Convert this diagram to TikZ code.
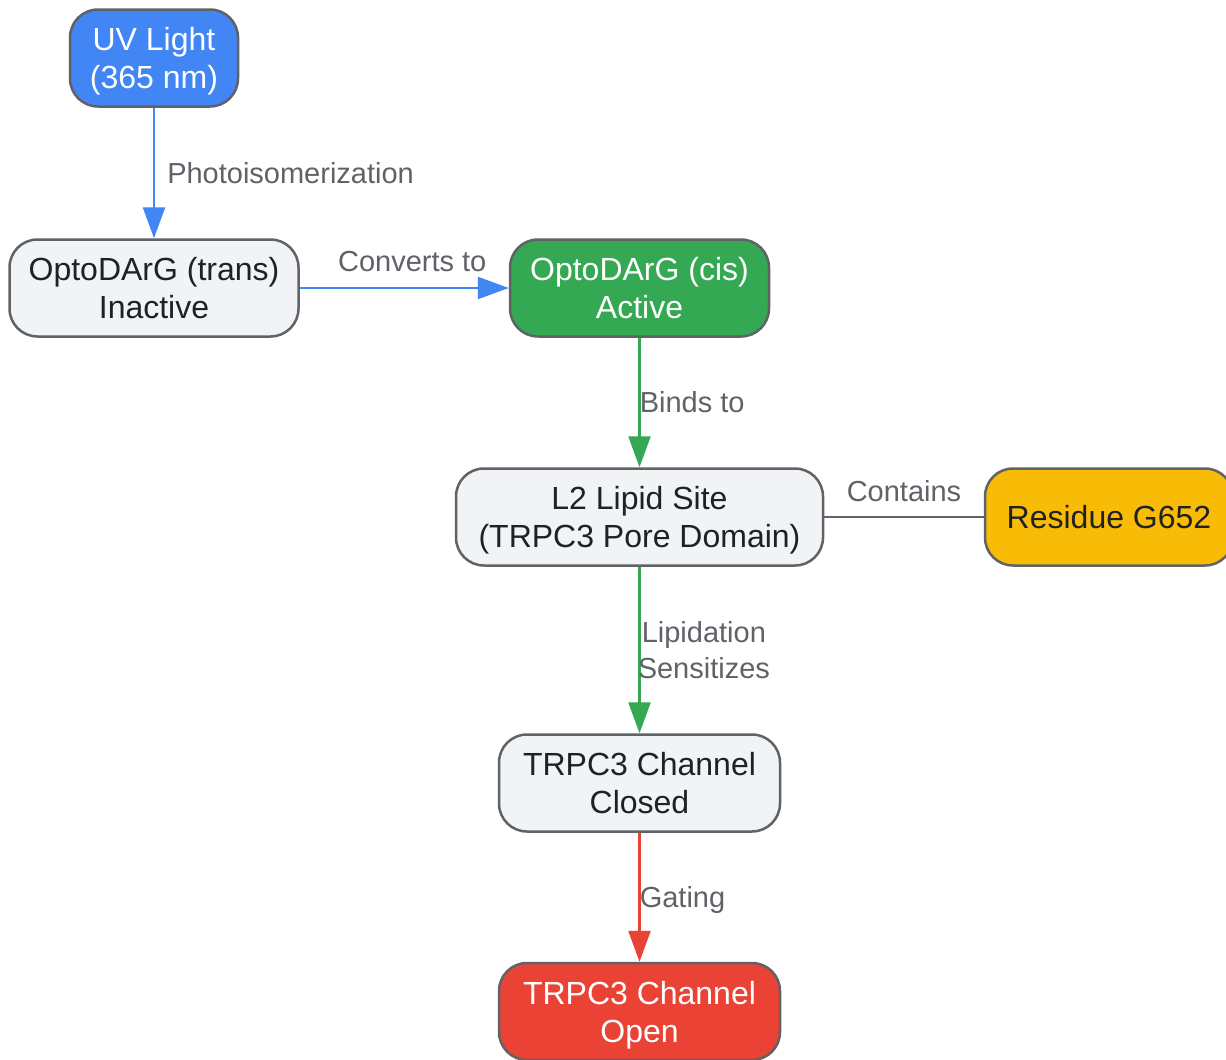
\documentclass[tikz,border=0pt]{standalone}
\usepackage{fontspec}
\setmainfont{Liberation Sans}
\usetikzlibrary{arrows.meta}
\definecolor{gblue}{HTML}{4285F4}
\definecolor{ggreen}{HTML}{34A853}
\definecolor{gred}{HTML}{EA4335}
\definecolor{gyellow}{HTML}{F9BC06}
\definecolor{glight}{HTML}{F1F3F4}
\definecolor{gborder}{HTML}{5F6368}
\definecolor{gtext}{HTML}{202124}
\definecolor{glabel}{HTML}{5F6368}
\begin{document}
\begin{tikzpicture}[x=1pt,y=-1pt,
  box/.style={draw=gborder, line width=2.5pt, rounded corners=28pt, minimum height=97pt,
    inner sep=0pt, align=center, font=\fontsize{32pt}{38pt}\selectfont, text=gtext, fill=glight},
  twoline/.style={text depth=0pt},
  lbl/.style={text=glabel, font=\fontsize{29pt}{36pt}\selectfont, inner sep=0pt, align=center},
  conn/.style={line width=2.5pt, -{Triangle[length=31pt,width=22pt]}},
  plain/.style={line width=2.5pt},
]
\useasboundingbox (0,0) rectangle (1226,1060);
\clip (0,0) rectangle (1226,1060);
\fill[white] (0,0) rectangle (1226,1060);

\node[box, twoline, fill=gblue, text=white, minimum width=168pt] (uv) at (154,58) {UV Light\\(365 nm)};
\node[box, twoline, minimum width=289pt] (trans) at (154,288) {OptoDArG (trans)\\Inactive};
\node[box, twoline, fill=ggreen, text=white, minimum width=259pt] (cis) at (639.5,288) {OptoDArG (cis)\\Active};
\node[box, twoline, minimum width=367pt] (l2) at (639.5,517) {L2 Lipid Site\\(TRPC3 Pore Domain)};
\node[box, fill=gyellow, minimum width=248pt] (res) at (1109,517) {Residue G652};
\node[box, twoline, minimum width=281pt] (closed) at (639.5,783) {TRPC3 Channel\\Closed};
\node[box, twoline, fill=gred, text=white, minimum width=281pt] (open) at (639.5,1011.5) {TRPC3 Channel\\Open};

\draw[conn, gblue] (uv) -- node[lbl, anchor=west, xshift=12pt] {Photoisomerization} (trans);
\draw[conn, gblue] (trans) -- node[lbl, xshift=8pt, yshift=26pt] {Converts to} (cis);
\draw[conn, ggreen] (cis) -- node[lbl, anchor=west, xshift=-1pt] {Binds to} (l2);
\draw[plain, gborder] (l2) -- node[lbl, yshift=26pt] {Contains} (res);
\draw[conn, ggreen] (l2) -- node[lbl, anchor=west, xshift=-3pt] {Lipidation\\Sensitizes} (closed);
\draw[conn, gred] (closed) -- node[lbl, anchor=west, xshift=-1pt, yshift=-3pt] {Gating} (open);
\end{tikzpicture}
\end{document}
